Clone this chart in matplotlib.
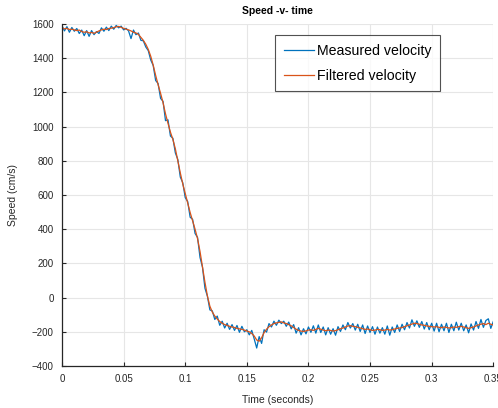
import numpy as np
import matplotlib
matplotlib.use("Agg")
import matplotlib.pyplot as plt

plt.rcParams['font.family'] = ['Liberation Sans', 'DejaVu Sans']

# ---- data ----
t_start, t_end = 0.0, 0.35

filtered = [
    1578, 1572, 1575, 1568, 1570, 1566, 1562, 1565, 1556, 1552,
    1555, 1548, 1551, 1546, 1553, 1560, 1566, 1570, 1568, 1574,
    1576, 1579, 1584, 1586, 1581, 1575, 1570, 1566, 1560, 1552,
    1548, 1540, 1522, 1505, 1482, 1452, 1412, 1360, 1300, 1245,
    1195, 1140, 1075, 1020, 968, 925, 870, 800, 730, 665,
    610, 555, 498, 450, 400, 345, 270, 180, 90, 10,
    -50, -85, -108, -125, -140, -150, -158, -163, -168, -172,
    -175, -180, -183, -186, -190, -196, -200, -210, -225, -248,
    -255, -235, -205, -185, -170, -160, -152, -148, -145, -142,
    -148, -152, -158, -165, -175, -185, -192, -196, -198, -195,
    -190, -188, -192, -186, -180, -185, -190, -194, -190, -192,
    -196, -193, -188, -182, -178, -172, -166, -164, -168, -170,
    -174, -178, -182, -186, -184, -188, -192, -190, -186, -188,
    -192, -190, -186, -190, -188, -184, -180, -178, -175, -170,
    -165, -160, -155, -150, -152, -156, -160, -162, -166, -168,
    -170, -172, -170, -174, -176, -172, -174, -178, -176, -172,
    -174, -170, -168, -172, -176, -180, -176, -172, -166, -160,
    -156, -152, -158, -150, -156, -160,
]

measured = [
    1590, 1560, 1585, 1552, 1580, 1558, 1574, 1545, 1565, 1532,
    1562, 1528, 1562, 1538, 1556, 1545, 1578, 1558, 1582, 1562,
    1588, 1570, 1592, 1578, 1588, 1566, 1575, 1560, 1515, 1565,
    1538, 1548, 1505, 1502, 1466, 1445, 1390, 1358, 1270, 1252,
    1165, 1148, 1035, 1040, 945, 932, 846, 808, 705, 672,
    585, 562, 470, 458, 375, 352, 235, 178, 55, 8,
    -72, -78, -128, -108, -162, -138, -178, -150, -186, -158,
    -192, -163, -203, -168, -200, -188, -218, -192, -242, -295,
    -228, -268, -188, -202, -152, -172, -138, -162, -132, -152,
    -138, -168, -143, -183, -158, -208, -176, -218, -182, -212,
    -172, -203, -165, -208, -160, -204, -172, -218, -176, -214,
    -182, -220, -170, -198, -160, -188, -146, -178, -152, -190,
    -156, -198, -160, -210, -166, -204, -170, -214, -172, -208,
    -176, -214, -166, -220, -172, -204, -160, -198, -156, -188,
    -146, -178, -130, -168, -136, -174, -140, -184, -146, -188,
    -150, -196, -150, -200, -156, -194, -150, -204, -156, -194,
    -144, -190, -150, -194, -160, -206, -154, -190, -140, -180,
    -128, -174, -134, -124, -180, -140,
]

x_ticks = [0, 0.05, 0.1, 0.15, 0.2, 0.25, 0.3, 0.35]
x_tick_labels = ["0", "0.05", "0.1", "0.15", "0.2", "0.25", "0.3", "0.35"]
y_ticks = [-400, -200, 0, 200, 400, 600, 800, 1000, 1200, 1400, 1600]

t_meas = np.linspace(t_start, t_end, len(measured))
t_filt = np.linspace(t_start, t_end, len(filtered))

# ---- figure ----
fig = plt.figure(figsize=(4.98, 4.08), dpi=100)
ax = fig.add_axes([0.1245, 0.103, 0.866, 0.838])

axis_col = '#262626'
ax.plot(t_meas, measured, color='#0072BD', lw=0.9, label='Measured velocity')
ax.plot(t_filt, filtered, color='#D95319', lw=0.9, label='Filtered velocity')

ax.set_xlim(0, 0.35)
ax.set_ylim(-400, 1600)
ax.set_xticks(x_ticks)
ax.set_xticklabels(x_tick_labels)
ax.set_yticks(y_ticks)

ax.grid(True, color='#e6e6e6', lw=0.8)
ax.set_axisbelow(True)
for s in ['top', 'right']:
    ax.spines[s].set_visible(False)
for s in ['left', 'bottom']:
    ax.spines[s].set_color(axis_col)
    ax.spines[s].set_linewidth(0.9)
ax.tick_params(direction='in', length=3, width=0.8, colors=axis_col,
               labelsize=7, pad=6)
for lab in ax.get_xticklabels() + ax.get_yticklabels():
    lab.set_color(axis_col)

ax.set_title('Speed -v- time', fontsize=7.5, fontweight='bold', pad=7, color='black')
ax.set_xlabel('Time (seconds)', fontsize=7.5, color=axis_col, labelpad=8)
ax.set_ylabel('Speed (cm/s)', fontsize=7.5, color=axis_col, labelpad=10)

leg = ax.legend(loc='upper right', bbox_to_anchor=(0.877, 0.968), fontsize=10.2,
                frameon=True, fancybox=False, handlelength=2.1,
                handletextpad=0.25, borderpad=0.6, labelspacing=0.8,
                borderaxespad=0.0)
leg.get_frame().set_edgecolor(axis_col)
leg.get_frame().set_linewidth(0.8)

fig.savefig('out.png', dpi=100)
